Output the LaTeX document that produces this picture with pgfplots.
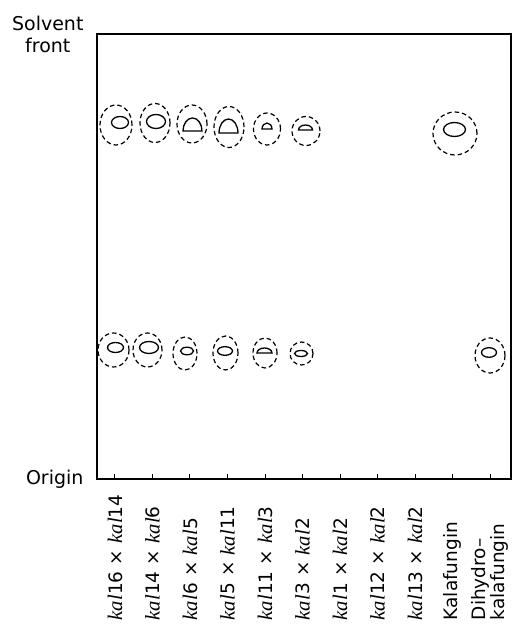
\documentclass[border=0pt]{standalone}
\usepackage{pgfplots}
\pgfplotsset{compat=1.18}
\usepackage{fontspec}
\setmainfont{DejaVu Sans}
\newfontfamily\kalfont{Liberation Serif}[Scale=1.12]
\newcommand\kal{{\kalfont\itshape kal}}
\pgfdeclareplotmark{ell}{\pgfpathellipse{\pgfpointorigin}{\pgfpoint{\ew pt}{0pt}}{\pgfpoint{0pt}{\eh pt}}\pgfusepathqstroke}
\pgfdeclareplotmark{dome}{%
  \pgfpathmoveto{\pgfpoint{\ew pt}{0pt}}%
  \pgfpathcurveto{\pgfpoint{\ew pt}{0.5523*\eh pt}}{\pgfpoint{0.5523*\ew pt}{\eh pt}}{\pgfpoint{0pt}{\eh pt}}%
  \pgfpathcurveto{\pgfpoint{-0.5523*\ew pt}{\eh pt}}{\pgfpoint{-\ew pt}{0.5523*\eh pt}}{\pgfpoint{-\ew pt}{0pt}}%
  \pgfpathclose\pgfusepathqstroke}
\begin{document}
\begin{tikzpicture}
\begin{axis}[
  scale only axis, width=414pt, height=445pt,
  xmin=97, xmax=511, ymin=0, ymax=445,
  axis line style={line width=1.5pt},
  xtick={115,152.5,190,227.5,265,302.5,340,377.5,415,452.5,490},
  xticklabels={{\kal16 × \kal14},{\kal14 × \kal6},{\kal6 × \kal5},{\kal5 × \kal11},{\kal11 × \kal3},{\kal3 × \kal2},{\kal1 × \kal2},{\kal12 × \kal2},{\kal13 × \kal2},{Kalafungin},{Dihydro–\\kalafungin}},
  xtick align=inside, xtick pos=bottom, major tick length=5pt,
  x tick style={line width=1pt, black},
  xticklabel style={rotate=90, anchor=east, text width=131pt, align=left, inner sep=0pt, font=\fontsize{18.5}{16}\selectfont},
  xticklabel shift=10pt,
  ytick={0}, yticklabels={Origin},
  extra y ticks={445}, extra y tick labels={Solvent\\front},
  extra y tick style={yticklabel style={align=center}},
  y tick style={draw=none},
  yticklabel style={font=\fontsize{19}{22}\selectfont, xshift=-10pt},
  visualization depends on={value \thisrow{w} \as \ew},
  visualization depends on={value \thisrow{h} \as \eh},
]
% outer dashed zones (x, 479-py, half width, half height)
\addplot[scatter, only marks, mark=ell, scatter/use mapped color={draw=black},
  mark options={line width=1.2pt, dash pattern=on 4.5pt off 3pt}] table {
x y w h
116 354 16 20
155 356 15 19.5
192 355 15 19
229 352 15 20.5
267 350 13.5 16
306 348 14 14.5
455 345.5 22 21.5
113.5 129 15.5 17
147.5 129 14.5 17
185 125.5 12 16.5
225.5 126 12.5 17
265 126 12 15
301.5 125.5 11.5 11.5
490 123.5 15 17.5
};
% inner spots (ellipses)
\addplot[scatter, only marks, mark=ell, scatter/use mapped color={draw=black},
  mark options={line width=1.3pt, solid}] table {
x y w h
120 356.5 8.5 6
156 357.5 9.5 7
454.5 349.5 11 7
115.5 131.5 8 5
149 131.5 9.5 6
187 128 6.5 3.8
225 128 7.5 4.3
301 125.5 6.5 3
489 126.5 7.5 4.8
};
% inner spots (dome shaped; y = flat base)
\addplot[scatter, only marks, mark=dome, scatter/use mapped color={draw=black},
  mark options={line width=1.3pt, solid}] table {
x y w h
192.5 348 9.5 13
228.5 346 9.5 14
267 350 5 6
305.5 349 7 5
264.5 126 7.5 5
};
\end{axis}
\pgfresetboundingbox
\path (current axis.south west) ++(-97pt,-145pt) rectangle ++(513pt,624pt);
\end{tikzpicture}
\end{document}
